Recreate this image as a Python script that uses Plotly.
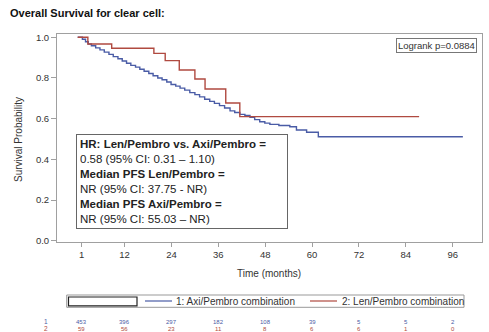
import plotly.graph_objects as go

# ---- data ----
axi_time = [0, 1.2, 2.0, 2.7, 3.5, 4.6, 5.7, 6.8, 8.0, 9.1, 10.3, 11.4, 12.5, 13.6, 14.8,
            15.9, 17.0, 18.2, 19.3, 20.5, 21.6, 22.8, 23.9, 25.1, 26.2, 27.4, 28.7, 30.0,
            31.2, 32.5, 33.8, 35.0, 36.3, 37.6, 39.0, 40.2, 41.5, 42.8, 44.1, 45.3, 46.6,
            47.9, 49.2, 51.5, 54.3, 56.0, 58.6, 61.6, 98.6]
axi_surv = [1.0, 0.99, 0.978, 0.967, 0.958, 0.948, 0.938, 0.927, 0.916, 0.905, 0.894, 0.883,
            0.872, 0.862, 0.853, 0.843, 0.833, 0.822, 0.811, 0.800, 0.791, 0.780, 0.768,
            0.760, 0.750, 0.740, 0.728, 0.718, 0.707, 0.695, 0.685, 0.675, 0.664, 0.652,
            0.638, 0.630, 0.621, 0.616, 0.606, 0.595, 0.585, 0.578, 0.572, 0.566, 0.560,
            0.544, 0.533, 0.511, 0.511]

len_time = [0, 2.6, 8.7, 19.5, 22.4, 26.0, 30.0, 32.6, 37.9, 41.5, 87.4]
len_surv = [1.0, 0.967, 0.946, 0.921, 0.885, 0.839, 0.795, 0.746, 0.677, 0.610, 0.610]

x_ticks = [1, 12, 24, 36, 48, 60, 72, 84, 96]
y_ticks = [0.0, 0.2, 0.4, 0.6, 0.8, 1.0]
risk_axi = [453, 396, 297, 182, 108, 39, 5, 5, 2]
risk_len = [59, 56, 23, 11, 8, 6, 6, 1, 0]

title_text = "Overall Survival for clear cell:"
legend_axi = "1: Axi/Pembro combination"
legend_len = "2: Len/Pembro combination"
logrank_text = "Logrank p=0.0884"
hr_lines = ["<b>HR: Len/Pembro vs. Axi/Pembro =</b>",
            "0.58 (95% CI: 0.31 \u2013 1.10)",
            "<b>Median PFS Len/Pembro =</b>",
            "NR (95% CI: 37.75 - NR)",
            "<b>Median PFS Axi/Pembro =</b>",
            "NR (95% CI: 55.03 \u2013 NR)"]

BLUE = "#4a5ca6"
RED = "#b04a40"
FONT = "Liberation Sans, Arial, sans-serif"
TXT = "#333333"

W, H = 489, 332
L, R, T, B = 57, 482, 34, 242  # plot area in pixels


def px(xp):
    return (xp - L) / (R - L)


def py(yp):
    return (B - yp) / (B - T)


fig = go.Figure()
fig.add_trace(go.Scatter(x=axi_time, y=axi_surv, mode="lines", line_shape="hv",
                         line=dict(color=BLUE, width=1.4), name=legend_axi,
                         showlegend=False))
fig.add_trace(go.Scatter(x=len_time, y=len_surv, mode="lines", line_shape="hv",
                         line=dict(color=RED, width=1.4), name=legend_len,
                         showlegend=False))

fig.update_layout(
    width=W, height=H,
    margin=dict(l=L, r=W - R, t=T, b=H - B),
    paper_bgcolor="white", plot_bgcolor="white",
    font=dict(family=FONT, color=TXT),
    showlegend=False,
)
fig.update_xaxes(range=[-5.3, 103.5], tickvals=x_ticks, ticktext=[str(t) for t in x_ticks],
                 showline=True, mirror=True, linecolor="#a0a0a0", linewidth=1,
                 ticks="outside", ticklen=4, tickcolor="#a0a0a0",
                 tickfont=dict(size=9.5, color=TXT), showgrid=False, zeroline=False)
fig.update_yaxes(range=[-0.0064, 1.016], tickvals=y_ticks, tickformat=".1f",
                 showline=True, mirror=True, linecolor="#a0a0a0", linewidth=1,
                 ticks="outside", ticklen=5, tickcolor="#a0a0a0",
                 tickfont=dict(size=9.5, color=TXT), showgrid=False, zeroline=False)

ann = []
ann.append(dict(text="<b>" + title_text + "</b>", xref="paper", yref="paper",
                x=px(8), y=py(13), xanchor="left", yanchor="middle", showarrow=False,
                font=dict(size=11, color="#111111", family=FONT)))
ann.append(dict(text="Survival Probability", xref="paper", yref="paper",
                x=px(18), y=py(140), xanchor="center", yanchor="middle", textangle=-90,
                showarrow=False, font=dict(size=10, color=TXT)))
ann.append(dict(text="Time (months)", xref="paper", yref="paper",
                x=px(269), y=py(273), xanchor="center", yanchor="middle",
                showarrow=False, font=dict(size=10, color=TXT)))
ann.append(dict(text=logrank_text, xref="paper", yref="paper",
                x=px(476.7), y=py(38.3), xanchor="right", yanchor="top",
                showarrow=False, font=dict(size=9.5, color=TXT),
                bordercolor="#777777", borderwidth=1, borderpad=1, bgcolor="white"))
ann.append(dict(text="<br>".join(hr_lines), xref="paper", yref="paper",
                x=px(76), y=py(134), xanchor="left", yanchor="top", align="left",
                width=204, showarrow=False, font=dict(size=11.5, color="#222222"),
                bordercolor="#666666", borderwidth=1, borderpad=3, bgcolor="white"))

# legend
ann.append(dict(text=legend_axi, xref="paper", yref="paper", x=px(174), y=py(301),
                xanchor="left", yanchor="middle", showarrow=False,
                font=dict(size=10, color=TXT)))
ann.append(dict(text=legend_len, xref="paper", yref="paper", x=px(340), y=py(301),
                xanchor="left", yanchor="middle", showarrow=False,
                font=dict(size=10, color=TXT)))

# at-risk table
ROW1, ROW2 = 321.6, 328.8
ann.append(dict(text="1", xref="paper", yref="paper", x=px(46), y=py(ROW1),
                xanchor="center", yanchor="middle", showarrow=False,
                font=dict(size=6.5, color=BLUE)))
ann.append(dict(text="2", xref="paper", yref="paper", x=px(46), y=py(ROW2),
                xanchor="center", yanchor="middle", showarrow=False,
                font=dict(size=6.5, color=RED)))
for t, a, l in zip(x_ticks, risk_axi, risk_len):
    ann.append(dict(text=str(a), xref="x", yref="paper", x=t, y=py(ROW1),
                    xanchor="center", yanchor="middle", showarrow=False,
                    font=dict(size=6, color=BLUE)))
    ann.append(dict(text=str(l), xref="x", yref="paper", x=t, y=py(ROW2),
                    xanchor="center", yanchor="middle", showarrow=False,
                    font=dict(size=6, color=RED)))
fig.update_layout(annotations=ann)

shapes = []
shapes.append(dict(type="rect", xref="paper", yref="paper", x0=px(66.7), x1=px(464),
                   y0=py(295), y1=py(307.3), line=dict(color="#999999", width=1)))
shapes.append(dict(type="rect", xref="paper", yref="paper", x0=px(68.5), x1=px(137),
                   y0=py(297), y1=py(305.8), line=dict(color="#222222", width=1.2)))
shapes.append(dict(type="line", xref="paper", yref="paper", x0=px(145), x1=px(172),
                   y0=py(301), y1=py(301), line=dict(color=BLUE, width=1.2)))
shapes.append(dict(type="line", xref="paper", yref="paper", x0=px(310), x1=px(337),
                   y0=py(301), y1=py(301), line=dict(color=RED, width=1.2)))
fig.update_layout(shapes=shapes)

fig.write_html("out.html")
